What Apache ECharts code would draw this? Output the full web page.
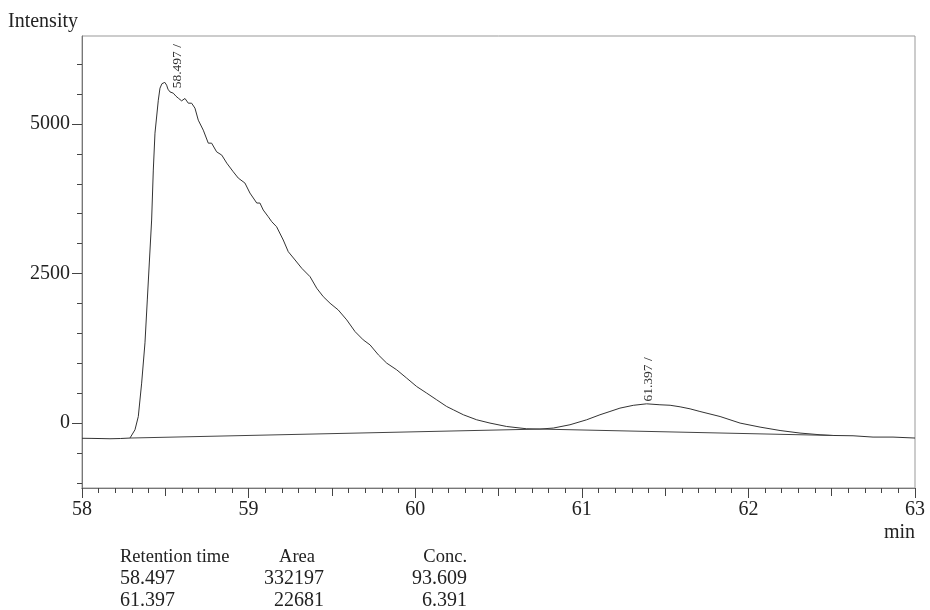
<!DOCTYPE html>
<html>
<head>
<meta charset="utf-8">
<script src="https://cdn.jsdelivr.net/npm/echarts@6/dist/echarts.min.js"></script>
<style>
  html, body { margin: 0; padding: 0; background: #fff; }
  #chart { width: 930px; height: 610px; }
</style>
</head>
<body>
<div id="chart"></div>
<script>
// Detector trace: retention time (min) and intensity
const retentionMin = [
  58.000, 58.060, 58.120, 58.168, 58.230, 58.288, 58.318, 58.338, 58.358, 58.378,
  58.392, 58.404, 58.418, 58.428, 58.438, 58.458, 58.468, 58.480, 58.492, 58.497,
  58.508, 58.516, 58.528, 58.548, 58.564, 58.578, 58.598, 58.618, 58.638, 58.658,
  58.678, 58.698, 58.728, 58.758, 58.778, 58.808, 58.839, 58.869, 58.908, 58.938,
  58.978, 59.008, 59.049, 59.068, 59.088, 59.118, 59.139, 59.168, 59.208, 59.238,
  59.279, 59.319, 59.369, 59.409, 59.448, 59.489, 59.538, 59.589, 59.639, 59.688,
  59.729, 59.779, 59.829, 59.889, 59.949, 60.009, 60.069, 60.129, 60.189, 60.229,
  60.289, 60.369, 60.449, 60.549, 60.669, 60.749, 60.829, 60.929, 61.029, 61.109,
  61.169, 61.229, 61.309, 61.389, 61.397, 61.469, 61.530, 61.590, 61.650, 61.709,
  61.830, 61.950, 62.070, 62.190, 62.310, 62.430, 62.508, 62.628, 62.748, 62.868,
  63.000
];
const intensity = [
  -254, -256, -259, -262, -258, -250, -112, 110, 668, 1341,
  2058, 2676, 3394, 4229, 4846, 5397, 5598, 5673, 5688, 5695,
  5648, 5581, 5536, 5514, 5464, 5431, 5386, 5426, 5347, 5347,
  5264, 5063, 4896, 4679, 4679, 4534, 4479, 4345, 4200, 4095,
  4012, 3845, 3678, 3678, 3561, 3449, 3366, 3282, 3060, 2865,
  2726, 2588, 2447, 2254, 2114, 2003, 1891, 1725, 1529, 1391,
  1307, 1140, 1002, 890, 751, 611, 501, 389, 277, 222,
  139, 55, 0, -57, -95, -100, -83, -28, 55, 139,
  194, 250, 297, 322, 326, 306, 298, 272, 238, 194,
  110, 0, -67, -124, -167, -195, -207, -212, -234, -234,
  -250
];

// Integration baseline (peak start, valley, peak end)
const baselineMin = [58.288, 60.749, 62.508];
const baselineIntensity = [-250, -100, -207];

// Peak apex annotations
const peakTimes = [58.497, 61.397];
const peakHeights = [5695, 326];
const peakLabels = ['58.497 /', '61.397 /'];

// Axis labels
const xTickLabels = [58, 59, 60, 61, 62, 63];
const yTickLabels = [0, 2500, 5000];

// Peak table
const tableHeaders = ['Retention time', 'Area', 'Conc.'];
const tableRetention = ['58.497', '61.397'];
const tableArea = ['332197', '22681'];
const tableConc = ['93.609', '6.391'];

// ---- tick positions (tenths of a minute, half minutes, 500-unit steps) ----
const xMinorTicks = [];
for (let i = 580; i <= 630; i++) xMinorTicks.push(i / 10);
const xHalfTicks = [];
for (let i = 116; i <= 126; i++) xHalfTicks.push(i / 2);
const yMinorTicks = [];
for (let v = -1000; v <= 6000; v += 500) yMinorTicks.push(v);

const SERIF = '"Liberation Serif", "Times New Roman", serif';
const INK = '#222';
const X_MIN = 58, X_MAX = 63, Y_MIN = -1085, Y_MAX = 6470;

function plain(v) { return String(v); }

function xAxisLayer(ticks, len, labels) {
  return {
    type: 'value', min: X_MIN, max: X_MAX, position: 'bottom',
    axisLine: { show: !labels, onZero: false, lineStyle: { color: '#777', width: 1 } },
    axisTick: { show: true, customValues: ticks, length: len, lineStyle: { color: '#444', width: 1 } },
    axisLabel: labels ? {
      show: true, customValues: labels, margin: 12, formatter: plain,
      fontFamily: SERIF, fontSize: 20, color: INK
    } : { show: false },
    splitLine: { show: false }
  };
}
function yAxisLayer(ticks, len, labels) {
  return {
    type: 'value', min: Y_MIN, max: Y_MAX, position: 'left',
    axisLine: { show: !labels, onZero: false, lineStyle: { color: '#777', width: 1 } },
    axisTick: { show: true, customValues: ticks, length: len, lineStyle: { color: '#444', width: 1 } },
    axisLabel: labels ? {
      show: true, customValues: labels, margin: 12, formatter: plain,
      fontFamily: SERIF, fontSize: 20, color: INK,
      padding: [5, 0, 0, 0]
    } : { show: false },
    splitLine: { show: false }
  };
}

// label placement relative to each apex (px)
const peakLabelShift = [[13, 6], [1, -2]];

const trace = retentionMin.map((t, i) => [t, intensity[i]]);
const baseline = baselineMin.map((t, i) => [t, baselineIntensity[i]]);
const peaks = peakTimes.map((t, i) => [t, peakHeights[i]]);

function tableText(x, y, text, align, size) {
  return {
    type: 'text', x: x, y: y, silent: true,
    style: { text: text, fill: INK, font: size + 'px ' + SERIF, align: align, verticalAlign: 'middle' }
  };
}

const graphics = [
  tableText(8, 22, 'Intensity', 'left', 20),
  tableText(915, 533, 'min', 'right', 20),
  tableText(120, 557, tableHeaders[0], 'left', 18.5),
  tableText(297, 557, tableHeaders[1], 'center', 18.5),
  tableText(467, 557, tableHeaders[2], 'right', 18.5)
];
tableRetention.forEach((txt, i) => {
  const y = 579 + i * 22;
  graphics.push(tableText(120, y, txt, 'left', 20));
  graphics.push(tableText(324, y, tableArea[i], 'right', 20));
  graphics.push(tableText(467, y, tableConc[i], 'right', 20));
});

const chart = echarts.init(document.getElementById('chart'), null, { renderer: 'canvas' });
chart.setOption({
  animation: false,
  backgroundColor: '#fff',
  grid: {
    left: 82, right: 15, top: 36, bottom: 122,
    show: true, borderColor: '#999', borderWidth: 1, backgroundColor: 'transparent'
  },
  xAxis: [
    xAxisLayer(xMinorTicks, 5, null),
    xAxisLayer(xHalfTicks, 8, null),
    xAxisLayer(xTickLabels, 10, xTickLabels)
  ],
  yAxis: [
    yAxisLayer(yMinorTicks, 5, null),
    yAxisLayer(yTickLabels, 10, yTickLabels)
  ],
  series: [
    {
      type: 'line', name: 'trace', data: trace,
      xAxisIndex: 0, yAxisIndex: 0,
      showSymbol: false, symbol: 'none', smooth: false,
      lineStyle: { color: '#333', width: 1 }
    },
    {
      type: 'line', name: 'baseline', data: baseline,
      xAxisIndex: 0, yAxisIndex: 0,
      showSymbol: false, symbol: 'none',
      lineStyle: { color: '#444', width: 1 }
    },
    {
      type: 'custom', name: 'peaks', data: peaks,
      xAxisIndex: 0, yAxisIndex: 0,
      encode: { x: 0, y: 1 },
      renderItem: function (params, api) {
        const p = api.coord([api.value(0), api.value(1)]);
        const s = peakLabelShift[params.dataIndex];
        return {
          type: 'text',
          x: p[0] + s[0], y: p[1] + s[1],
          rotation: Math.PI / 2,
          style: {
            text: peakLabels[params.dataIndex],
            fill: '#333', font: '13.5px ' + SERIF,
            align: 'left', verticalAlign: 'middle'
          }
        };
      }
    }
  ],
  graphic: graphics
});
</script>
</body>
</html>
